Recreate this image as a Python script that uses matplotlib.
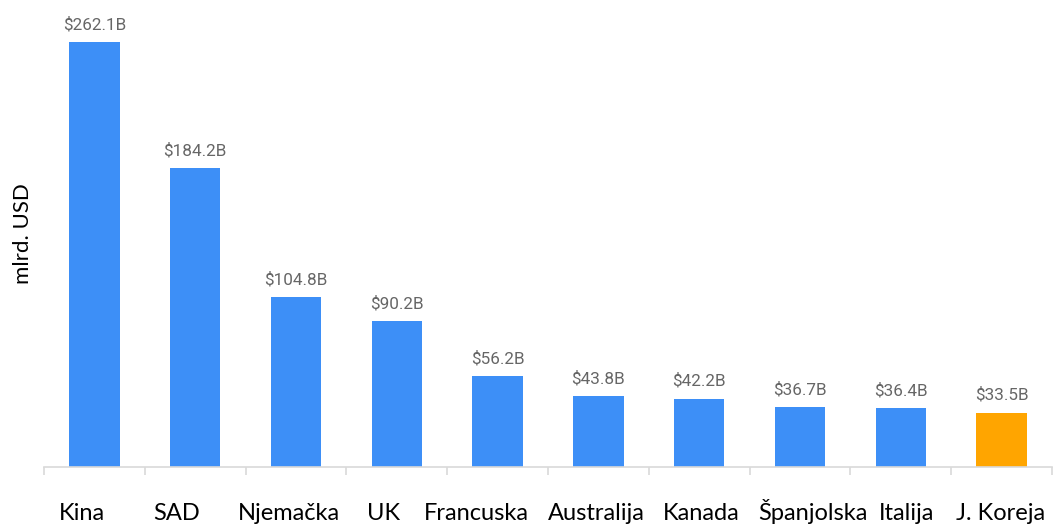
import matplotlib
matplotlib.use("Agg")
import matplotlib.pyplot as plt
from matplotlib.transforms import ScaledTranslation

countries = ["Kina", "SAD", "Njemačka", "UK", "Francuska", "Australija",
             "Kanada", "Španjolska", "Italija", "J. Koreja"]
values = [262.1, 184.2, 104.8, 90.2, 56.2, 43.8, 42.2, 36.7, 36.4, 33.5]
labels = ["$262.1B", "$184.2B", "$104.8B", "$90.2B", "$56.2B", "$43.8B",
          "$42.2B", "$36.7B", "$36.4B", "$33.5B"]
highlight = "J. Koreja"

# layout: horizontal nudges (pixels) of category labels as in the reference
label_nudge_px = [-12, -19, -7, -13, -21, -2, 2, 13, 6, -1]

blue = "#3d8ff7"
orange = "#ffa500"
colors = [orange if c == highlight else blue for c in countries]

fig = plt.figure(figsize=(10.58, 5.27), dpi=100)
ax = fig.add_axes([44 / 1058, 60 / 527, 1008 / 1058, 467 / 527])

x = list(range(len(countries)))
ax.bar(x, values, width=0.5, color=colors, edgecolor="none")
ax.set_xlim(-0.5, len(countries) - 0.5)
ax.set_ylim(0, 288)

for xi, v, lab in zip(x, values, labels):
    ax.annotate(lab, (xi, v), xytext=(0, 7), textcoords="offset points",
                ha="center", va="bottom", fontsize=12.3, color="#666666",
                family=["Roboto", "DejaVu Sans"])

for s in ["top", "right", "left"]:
    ax.spines[s].set_visible(False)
ax.spines["bottom"].set_color("#d9d9d9")
ax.spines["bottom"].set_linewidth(1.2)
ax.set_yticks([])

ax.set_xticks(x)
ax.set_xticklabels(countries, fontsize=17, family=["Lato", "DejaVu Sans"])
ax.tick_params(axis="x", length=0, pad=38)
for t, dx in zip(ax.get_xticklabels(), label_nudge_px):
    t.set_verticalalignment("baseline")
    t.set_transform(t.get_transform() + ScaledTranslation(dx / 100, 0, fig.dpi_scale_trans))
ax.set_xticks([i - 0.5 for i in range(len(countries) + 1)], minor=True)
ax.tick_params(axis="x", which="minor", length=6, color="#d9d9d9", width=1.2)

ax.set_ylabel("mlrd. USD", fontsize=16, family=["Lato", "DejaVu Sans"], labelpad=8)

fig.savefig("out.png", dpi=100)
